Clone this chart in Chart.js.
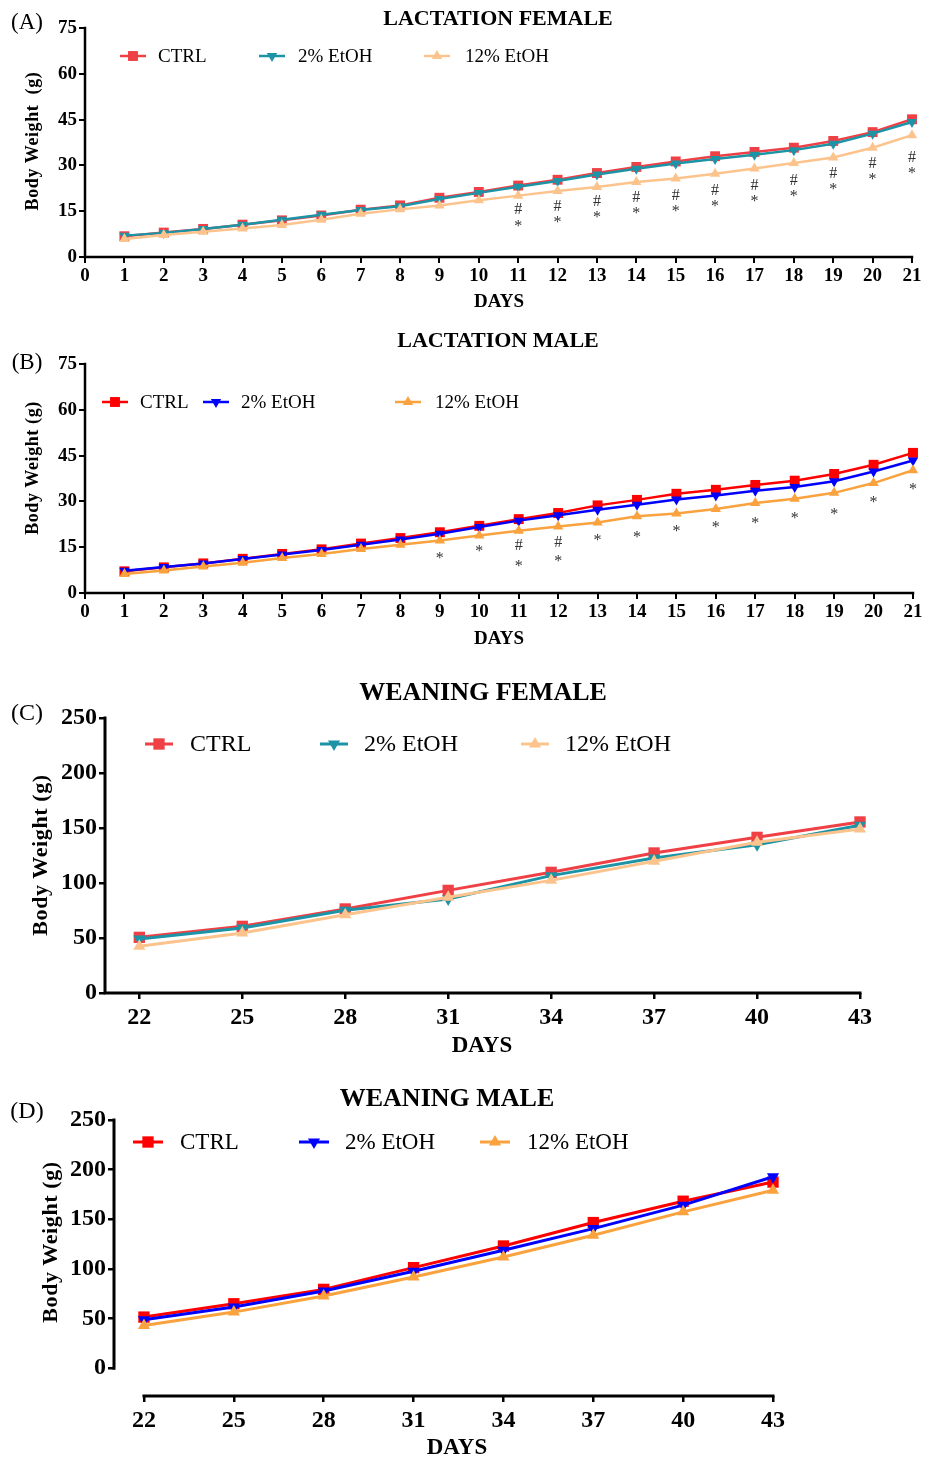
<!DOCTYPE html>
<html>
<head>
<meta charset="utf-8">
<script src="https://cdn.jsdelivr.net/npm/chart.js@4.4.1/dist/chart.umd.min.js"></script>
<style>
body { margin: 0; background: #fff; width: 925px; height: 1460px; position: relative; overflow: hidden;
       font-family: "Liberation Serif", "Times New Roman", serif; color: #000; }
canvas { position: absolute; left: 0; }
.t { position: absolute; transform: translate(-50%, -50%); white-space: nowrap; }
.b { font-weight: bold; }
.rot { transform: translate(-50%, -50%) rotate(-90deg); }
</style>
</head>
<body>
<canvas id="chartA" width="925" height="320" style="top:0px"></canvas>
<canvas id="chartB" width="925" height="330" style="top:325px"></canvas>
<canvas id="chartC" width="925" height="390" style="top:670px"></canvas>
<canvas id="chartD" width="925" height="390" style="top:1070px"></canvas>

<div class="t" style="left:27px;top:22px;font-size:23px">(A)</div>
<div class="t b" style="left:498px;top:18px;font-size:22px">LACTATION FEMALE</div>
<div class="t b rot" style="left:32px;top:141px;font-size:18px;letter-spacing:0.6px">Body Weight &nbsp;(g)</div>
<div class="t b" style="left:499px;top:301px;font-size:19px">DAYS</div>

<div class="t" style="left:27px;top:362px;font-size:23px">(B)</div>
<div class="t b" style="left:498px;top:340px;font-size:22px">LACTATION MALE</div>
<div class="t b rot" style="left:32px;top:468px;font-size:18px;letter-spacing:0.6px">Body Weight (g)</div>
<div class="t b" style="left:499px;top:638px;font-size:19px">DAYS</div>

<div class="t" style="left:27px;top:712px;font-size:24px">(C)</div>
<div class="t b" style="left:483px;top:692px;font-size:26px">WEANING FEMALE</div>
<div class="t b rot" style="left:40px;top:855px;font-size:22px;letter-spacing:0.6px">Body Weight (g)</div>
<div class="t b" style="left:482px;top:1045px;font-size:23px">DAYS</div>

<div class="t" style="left:27px;top:1110px;font-size:24px">(D)</div>
<div class="t b" style="left:447px;top:1098px;font-size:26px">WEANING MALE</div>
<div class="t b rot" style="left:50px;top:1242px;font-size:22px;letter-spacing:0.6px">Body Weight (g)</div>
<div class="t b" style="left:457px;top:1447px;font-size:23px">DAYS</div>

<script>
// ---- datos ----
const groupLabels = ['CTRL', '2% EtOH', '12% EtOH'];

const lactDays = [1, 2, 3, 4, 5, 6, 7, 8, 9, 10, 11, 12, 13, 14, 15, 16, 17, 18, 19, 20, 21];
const lactXTicks = [0, 1, 2, 3, 4, 5, 6, 7, 8, 9, 10, 11, 12, 13, 14, 15, 16, 17, 18, 19, 20, 21];
const lactYTicks = [0, 15, 30, 45, 60, 75];

// (A) lactation female
const femCtrl   = [6.8, 8.0, 9.2, 10.6, 12.0, 13.6, 15.5, 16.9, 19.4, 21.3, 23.4, 25.3, 27.5, 29.5, 31.3, 33.0, 34.4, 35.8, 38.0, 40.9, 45.1];
const femEtoh2  = [7.0, 7.9, 9.2, 10.6, 12.2, 13.8, 15.4, 16.6, 19.0, 21.0, 23.0, 24.9, 27.0, 28.9, 30.6, 32.1, 33.5, 35.0, 37.1, 40.4, 44.2];
const femEtoh12 = [5.9, 7.2, 8.3, 9.3, 10.5, 12.2, 14.2, 15.6, 16.9, 18.6, 20.1, 21.6, 22.9, 24.6, 25.7, 27.3, 29.0, 30.8, 32.6, 35.8, 39.9];
const femSigDays = [11, 12, 13, 14, 15, 16, 17, 18, 19, 20, 21];
const femHashY = [15.3, 16.6, 18.0, 19.3, 20.2, 21.8, 23.3, 25.1, 27.3, 30.6, 32.6];
const femStarY = [10.9, 12.3, 13.7, 15.1, 15.9, 17.5, 18.9, 20.8, 22.9, 26.4, 28.2];

// (B) lactation male
const maleCtrl   = [7.1, 8.4, 9.7, 11.2, 12.8, 14.3, 16.2, 18.0, 19.9, 22.0, 24.2, 26.2, 28.7, 30.5, 32.5, 33.8, 35.4, 36.8, 39.0, 42.0, 45.9];
const maleEtoh2  = [7.3, 8.5, 9.7, 11.1, 12.6, 14.1, 15.8, 17.5, 19.4, 21.6, 23.7, 25.5, 27.3, 28.9, 30.6, 31.9, 33.5, 34.7, 36.6, 39.8, 43.4];
const maleEtoh12 = [6.2, 7.4, 8.7, 9.9, 11.5, 12.8, 14.4, 15.8, 17.2, 18.8, 20.4, 21.8, 23.1, 25.1, 26.0, 27.5, 29.5, 30.9, 32.8, 36.0, 40.2];
const maleStarDays = [9, 10, 11, 12, 13, 14, 15, 16, 17, 18, 19, 20, 21];
const maleStarY = [12.3, 14.4, 9.6, 11.1, 18.2, 19.1, 21.0, 22.5, 23.8, 25.2, 26.6, 30.6, 34.9];
const maleHashDays = [11, 12];
const maleHashY = [15.3, 16.4];

// (C, D) weaning
const weanDays = [22, 25, 28, 31, 34, 37, 40, 43];
const weanYTicks = [0, 50, 100, 150, 200, 250];

const wfCtrl   = [50.6, 60.6, 76.4, 93.3, 109.7, 127.3, 141.5, 155.5];
const wfEtoh2  = [49.1, 59.1, 75.2, 85.5, 106.7, 122.7, 134.8, 152.5];
const wfEtoh12 = [42.4, 54.5, 71.2, 87.0, 102.4, 119.7, 137.0, 149.0];

const wmCtrl   = [51.5, 64.9, 79.4, 101.3, 123.1, 146.7, 168.2, 187.5];
const wmEtoh2  = [48.8, 61.6, 77.7, 97.6, 118.8, 140.6, 164.2, 192.8];
const wmEtoh12 = [43.1, 56.5, 72.7, 91.9, 112.0, 133.9, 157.5, 179.3];

// colores
const softColors = ['#ef4046', '#1d93a6', '#fcc48c'];
const strongColors = ['#ff0000', '#0000ff', '#f9a23e'];

const FONT = '"Liberation Serif", "Times New Roman", serif';

function drawMarker(ctx, style, x, y, r, color) {
    ctx.fillStyle = color;
    ctx.beginPath();
    if (style === 'square') {
        const s = r * Math.SQRT1_2;
        ctx.rect(x - s, y - s, 2 * s, 2 * s);
    } else if (style === 'up') {
        ctx.moveTo(x, y - r);
        ctx.lineTo(x + r * 0.866, y + r * 0.5);
        ctx.lineTo(x - r * 0.866, y + r * 0.5);
    } else {
        ctx.moveTo(x, y + r);
        ctx.lineTo(x + r * 0.866, y - r * 0.5);
        ctx.lineTo(x - r * 0.866, y - r * 0.5);
    }
    ctx.closePath();
    ctx.fill();
}

const markerStyles = ['square', 'down', 'up'];

// Lineas de ejes, leyenda y marcas de significancia
const extras = {
    id: 'extras',
    beforeDatasetsDraw(chart, args, o) {
        const ctx = chart.ctx, xs = chart.scales.x, ys = chart.scales.y, area = chart.chartArea;
        ctx.save();
        ctx.strokeStyle = '#000';
        ctx.lineWidth = o.axisWidth;
        ctx.lineCap = 'square';
        ctx.beginPath();
        ctx.moveTo(area.left, ys.getPixelForValue(o.yLine[0]));
        ctx.lineTo(area.left, ys.getPixelForValue(o.yLine[1]));
        ctx.moveTo(xs.getPixelForValue(o.xLine[0]), area.bottom);
        ctx.lineTo(xs.getPixelForValue(o.xLine[1]), area.bottom);
        ctx.stroke();
        ctx.restore();
    },
    afterDatasetsDraw(chart, args, o) {
        const ctx = chart.ctx, xs = chart.scales.x, ys = chart.scales.y;
        ctx.save();
        // leyenda
        const lg = o.legend;
        chart.data.datasets.forEach((ds, i) => {
            const cx = lg.x[i];
            ctx.strokeStyle = ds.borderColor;
            ctx.lineWidth = ds.borderWidth;
            ctx.beginPath();
            ctx.moveTo(cx - lg.half, lg.y);
            ctx.lineTo(cx + lg.half, lg.y);
            ctx.stroke();
            drawMarker(ctx, markerStyles[i], cx, lg.y, ds.pointRadius, ds.borderColor);
            ctx.fillStyle = '#000';
            ctx.font = lg.font + 'px ' + FONT;
            ctx.textBaseline = 'middle';
            ctx.textAlign = 'left';
            ctx.fillText(ds.label, lg.tx[i], lg.y + 1);
        });
        // significancia
        ctx.fillStyle = '#333';
        ctx.textAlign = 'center';
        ctx.textBaseline = 'middle';
        ctx.font = '16px ' + FONT;
        (o.sig || []).forEach(s => {
            s.days.forEach((d, k) => {
                const dy = s.text === '*' ? 3 : 0;
                ctx.fillText(s.text, xs.getPixelForValue(d), ys.getPixelForValue(s.vals[k]) + dy);
            });
        });
        ctx.restore();
    }
};

function makeDatasets(xVals, series, colors, lw, r) {
    return series.map((vals, i) => ({
        label: groupLabels[i],
        data: xVals.map((x, k) => ({ x: x, y: vals[k] })),
        borderColor: colors[i],
        backgroundColor: colors[i],
        borderWidth: lw,
        pointRadius: i === 0 ? r + 1 : r,
        pointHoverRadius: r,
        pointStyle: i === 0 ? 'rect' : 'triangle',
        rotation: i === 1 ? 180 : 0,
        pointBorderWidth: 0,
        tension: 0,
        clip: false,
        order: i === 2 ? 0 : 3 - i
    }));
}

function makeChart(id, p) {
    return new Chart(document.getElementById(id), {
        type: 'line',
        data: { datasets: makeDatasets(p.xVals, p.series, p.colors, p.lineWidth, p.radius) },
        options: {
            responsive: false,
            animation: false,
            events: [],
            layout: { padding: p.padding },
            plugins: {
                legend: { display: false },
                tooltip: { enabled: false },
                extras: p.extras
            },
            scales: {
                x: {
                    type: 'linear',
                    min: p.xMin, max: p.xMax,
                    afterBuildTicks: s => { s.ticks = p.xTicks.map(v => ({ value: v })); },
                    afterFit: s => { s.height = p.xAxisH; },
                    border: { display: false },
                    grid: { drawOnChartArea: false, drawTicks: true, tickLength: p.tickLen, color: '#000', lineWidth: p.tickWidth },
                    ticks: { color: '#000', padding: p.xPad, maxRotation: 0, autoSkip: false,
                             font: { family: FONT, weight: 'bold', size: p.tickFont } }
                },
                y: {
                    min: p.yMin, max: p.yMax,
                    afterBuildTicks: s => { s.ticks = p.yTicks.map(v => ({ value: v })); },
                    afterFit: s => { s.width = p.yAxisW; },
                    border: { display: false },
                    grid: { drawOnChartArea: false, drawTicks: true, tickLength: p.tickLen, color: '#000', lineWidth: p.tickWidth },
                    ticks: { color: '#000', padding: 2,
                             font: { family: FONT, weight: 'bold', size: p.tickFont } }
                }
            }
        },
        plugins: [extras]
    });
}

// (A)
makeChart('chartA', {
    xVals: lactDays, series: [femCtrl, femEtoh2, femEtoh12], colors: softColors,
    lineWidth: 2.5, radius: 6,
    xMin: 0, xMax: 21, xTicks: lactXTicks, yMin: 0, yMax: 75, yTicks: lactYTicks,
    padding: { left: 0, right: 13, top: 28, bottom: 23 }, xAxisH: 40, yAxisW: 85,
    tickLen: 6, tickWidth: 2, tickFont: 19, xPad: 2,
    extras: {
        axisWidth: 2.5, xLine: [0, 21], yLine: [0, 75],
        legend: { y: 56, x: [133, 272, 437], tx: [158, 298, 465], half: 13, font: 19 },
        sig: [{ text: '#', days: femSigDays, vals: femHashY }, { text: '*', days: femSigDays, vals: femStarY }]
    }
});

// (B)
makeChart('chartB', {
    xVals: lactDays, series: [maleCtrl, maleEtoh2, maleEtoh12], colors: strongColors,
    lineWidth: 2.5, radius: 6,
    xMin: 0, xMax: 21, xTicks: lactXTicks, yMin: 0, yMax: 75, yTicks: lactYTicks,
    padding: { left: 0, right: 12, top: 39, bottom: 22 }, xAxisH: 40, yAxisW: 85,
    tickLen: 6, tickWidth: 2, tickFont: 19, xPad: 2,
    extras: {
        axisWidth: 2.5, xLine: [0, 21], yLine: [0, 75],
        legend: { y: 77, x: [115, 216, 408], tx: [140, 241, 435], half: 13, font: 19 },
        sig: [{ text: '#', days: maleHashDays, vals: maleHashY }, { text: '*', days: maleStarDays, vals: maleStarY }]
    }
});

// (C)
makeChart('chartC', {
    xVals: weanDays, series: [wfCtrl, wfEtoh2, wfEtoh12], colors: softColors,
    lineWidth: 3, radius: 7,
    xMin: 21, xMax: 43, xTicks: weanDays, yMin: 0, yMax: 250, yTicks: weanYTicks,
    padding: { left: 0, right: 65, top: 48, bottom: 22 }, xAxisH: 45, yAxisW: 105,
    tickLen: 6, tickWidth: 2.5, tickFont: 24, xPad: 4,
    extras: {
        axisWidth: 3, xLine: [21, 43], yLine: [0, 250],
        legend: { y: 74, x: [159, 334, 535], tx: [190, 364, 565], half: 14, font: 24 }
    }
});

// (D)
makeChart('chartD', {
    xVals: weanDays, series: [wmCtrl, wmEtoh2, wmEtoh12], colors: strongColors,
    lineWidth: 3, radius: 7,
    xMin: 21, xMax: 43, xTicks: weanDays, yMin: -28, yMax: 250, yTicks: weanYTicks,
    padding: { left: 0, right: 152, top: 50, bottom: 19 }, xAxisH: 45, yAxisW: 114,
    tickLen: 6, tickWidth: 2.5, tickFont: 24, xPad: 4,
    extras: {
        axisWidth: 3, xLine: [22, 43], yLine: [0, 250],
        legend: { y: 72, x: [148, 314, 495], tx: [180, 345, 527], half: 15, font: 23 }
    }
});
</script>
</body>
</html>
